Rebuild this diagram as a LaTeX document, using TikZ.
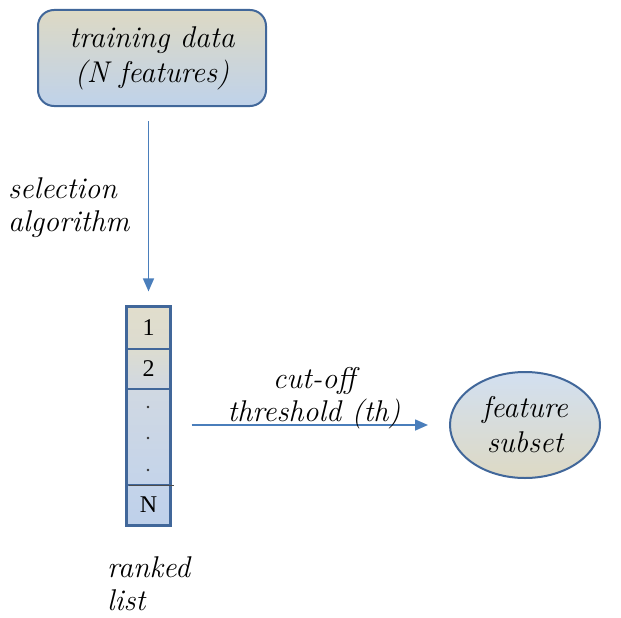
\documentclass[tikz,border=0pt]{standalone}
\usepackage{fontspec}
\newfontfamily\numfont{Liberation Serif}
\usetikzlibrary{shapes.geometric,arrows.meta,positioning,calc}
\definecolor{tanc}{HTML}{DDD9C4}
\definecolor{bluec}{HTML}{BFD2EA}
\definecolor{edgec}{HTML}{41679A}
\definecolor{arrc}{HTML}{4A7EBB}
\definecolor{ca}{RGB}{225,221,204}
\definecolor{cb}{RGB}{220,220,208}
\definecolor{cc}{RGB}{208,216,226}
\definecolor{cdd}{RGB}{196,212,234}
\definecolor{ce}{RGB}{190,208,234}
\tikzset{
  lbl/.style={font=\fontsize{30}{33}\selectfont\itshape, align=left, inner sep=0pt},
  cell/.style={draw=edgec, line width=1.2pt, minimum width=43pt, inner sep=0pt, font=\numfont\fontsize{24}{28}\selectfont},
  flow/.style={draw=arrc, line width=1.6pt, -{Triangle[length=13pt,width=11pt]}},
}
\begin{document}
\begin{tikzpicture}[x=1pt,y=-1pt]
\useasboundingbox (0,0) rectangle (621,618);
% top box
\node[draw=edgec, line width=2pt, rounded corners=16pt, top color=tanc, bottom color=bluec,
      minimum width=228pt, minimum height=96pt, inner sep=0pt,
      font=\fontsize{30}{35}\selectfont\itshape, align=center] (train) at (152,58)
      {training data\\(N features)};
% ranked list cells
\node[cell, minimum height=42pt, top color=ca, bottom color=cb] (c1) at (148.5,328) {1};
\node[cell, minimum height=40pt, top color=cb, bottom color=cc] (c2) at (148.5,369) {2};
\node[cell, minimum height=96pt, top color=cc, bottom color=cdd] (cd) at (148.5,437) {};
\node[cell, minimum height=40pt, top color=cdd, bottom color=ce] (cN) at (148.5,505) {N};
\fill[black!80] (148,407) circle (1.4pt) (148,438) circle (1.4pt) (148,470) circle (1.4pt);
\draw[edgec, line width=2pt] (c1.north west) rectangle (cN.south east);
\draw[black!70, line width=1pt] ($(cd.south west)+(3,0)$) -- ($(cd.south east)+(3,0)$);
% ellipse
\node[ellipse, draw=edgec, line width=2pt, top color=bluec!70!white, bottom color=tanc,
      minimum width=150pt, minimum height=106pt, inner sep=0pt,
      font=\fontsize{30}{35}\selectfont\itshape, align=center] (ell) at (525,425)
      {feature\\subset};
% arrows
\draw[flow, shorten <=14pt, shorten >=15pt] (train.south -| c1.north) -- (c1.north);
\draw[flow, shorten <=21pt, shorten >=21pt] (cd.east |- ell.west) -- (ell.west);
% labels
\node[lbl, anchor=west] (sel) at (8,208) {selection\\algorithm};
\node[lbl, align=center] (cut) at (314,398) {cut-off\\threshold (th)};
\node[lbl, anchor=west] (rk) at (107,584) {ranked\\list};
\end{tikzpicture}
\end{document}
